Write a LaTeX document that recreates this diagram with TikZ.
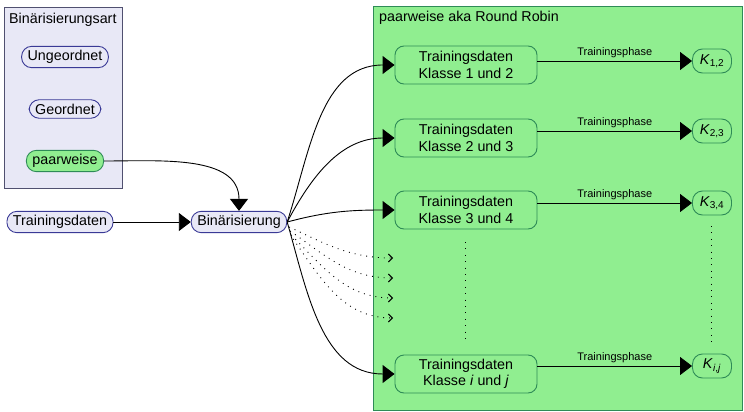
\documentclass[tikz,border=0pt]{standalone}
\usepackage{fontspec}
\setmainfont{Liberation Sans}
\usetikzlibrary{arrows.meta}
\definecolor{lav}{HTML}{E8E8F6}
\definecolor{boxline}{HTML}{505070}
\definecolor{navy}{HTML}{3A3A96}
\definecolor{lgreen}{HTML}{90EE90}
\definecolor{dgreen}{HTML}{2E8B57}
\begin{document}
\begin{tikzpicture}[x=1pt,y=-1pt,
  every node/.style={font=\fontsize{14.3}{16.5}\selectfont},
  pill/.style={draw=navy, fill=lav, line width=0.9pt, rounded corners=10pt, inner xsep=6pt, inner ysep=4pt},
  pillg/.style={pill, fill=lgreen, draw=dgreen},
  tbox/.style={draw=dgreen, fill=lgreen, line width=0.9pt, rounded corners=9pt, minimum width=142pt, minimum height=38pt, align=center, inner sep=1pt},
  kbox/.style={draw=dgreen, fill=lgreen, line width=0.9pt, rounded corners=10pt, minimum width=39pt, minimum height=24pt, inner sep=1pt},
  conn/.style={line width=0.9pt, -{Triangle[length=12pt,width=18pt]}},
  dconn/.style={line width=0.9pt, dash pattern=on 0.9pt off 5pt, -{Straight Barb[length=4pt,width=8pt,line width=0.9pt]}},
  vdots/.style={line width=0.9pt, dash pattern=on 0.9pt off 5.5pt},
  phase/.style={font=\fontsize{11}{13}\selectfont, above, inner sep=3pt}
]
\path[use as bounding box] (0,0) rectangle (744,412);

% left box
\node[draw=boxline, fill=lav, line width=0.9pt, minimum width=118pt, minimum height=181pt, inner sep=0pt] (artbox) at (63,97.5) {};
\node[anchor=west, inner sep=0pt] (arttitle) at (9,20) {Binärisierungsart};
\node[pill] (ung) at (65,57) {Ungeordnet};
\node[pill] (geo) at (65,109) {Geordnet};
\node[pillg] (paar) at (65,161) {paarweise};

\node[pill] (td) at (60,222) {Trainingsdaten};
\node[pill] (bin) at (239,222) {Binärisierung};

% green box
\node[draw=dgreen, fill=lgreen, line width=0.9pt, minimum width=369pt, minimum height=404pt, inner sep=0pt] (rr) at (557.5,208) {};
\node[anchor=west, inner sep=0pt] (rrtitle) at (379,18) {paarweise aka Round Robin};

\node[tbox] (t1) at (466,65) {Trainingsdaten\\Klasse 1 und 2};
\node[tbox] (t2) at (466,138) {Trainingsdaten\\Klasse 2 und 3};
\node[tbox] (t3) at (466,210) {Trainingsdaten\\Klasse 3 und 4};
\node[tbox] (t4) at (466,374) {Trainingsdaten\\Klasse \textit{i} und \textit{j}};

\node[kbox] (k1) at (712,61) {\textit{K}\textsubscript{1,2}};
\node[kbox] (k2) at (712,131) {\textit{K}\textsubscript{2,3}};
\node[kbox] (k3) at (712,203) {\textit{K}\textsubscript{3,4}};
\node[kbox] (k4) at (712,366) {\textit{K}\textsubscript{\textit{i},\textit{j}}};

% connectors
\draw[conn] (paar.east) to[out=0,in=90] (bin.north);
\draw[conn] (td.east) -- (bin.west);

\draw[conn] (bin.east) to[out=72,in=180] (t1.west);
\draw[conn] (bin.east) to[out=62,in=180] (t2.west);
\draw[conn] (bin.east) to[out=15,in=180] (t3.west);
\draw[conn] (bin.east) to[out=-74,in=180] (t4.west);

\draw[conn] (k1.west -| t1.east) -- node[phase] (p1) {Trainingsphase} (k1.west);
\draw[conn] (k2.west -| t2.east) -- node[phase] (p2) {Trainingsphase} (k2.west);
\draw[conn] (k3.west -| t3.east) -- node[phase] (p3) {Trainingsphase} (k3.west);
\draw[conn] (k4.west -| t4.east) -- node[phase] (p4) {Trainingsphase} (k4.west);

% dotted arrows
\coordinate (d1) at (393,258);
\coordinate (d2) at (393,278);
\coordinate (d3) at (393,298);
\coordinate (d4) at (393,318);
\draw[dconn] ([xshift=2pt,yshift=-5pt]bin.east) to[out=-25,in=180] (d1);
\draw[dconn] ([xshift=3pt,yshift=-9pt]bin.east) to[out=-35,in=180] (d2);
\draw[dconn] ([xshift=4pt,yshift=-13pt]bin.east) to[out=-45,in=180] (d3);
\draw[dconn] ([xshift=6pt,yshift=-17pt]bin.east) to[out=-55,in=180] (d4);

% vertical dots
\coordinate (v1a) at (465,242);
\coordinate (v1b) at (465,342);
\coordinate (v2a) at (711,226);
\coordinate (v2b) at (711,342);
\draw[vdots] (v1a) -- (v1b);
\draw[vdots] (v2a) -- (v2b);
\end{tikzpicture}
\end{document}
